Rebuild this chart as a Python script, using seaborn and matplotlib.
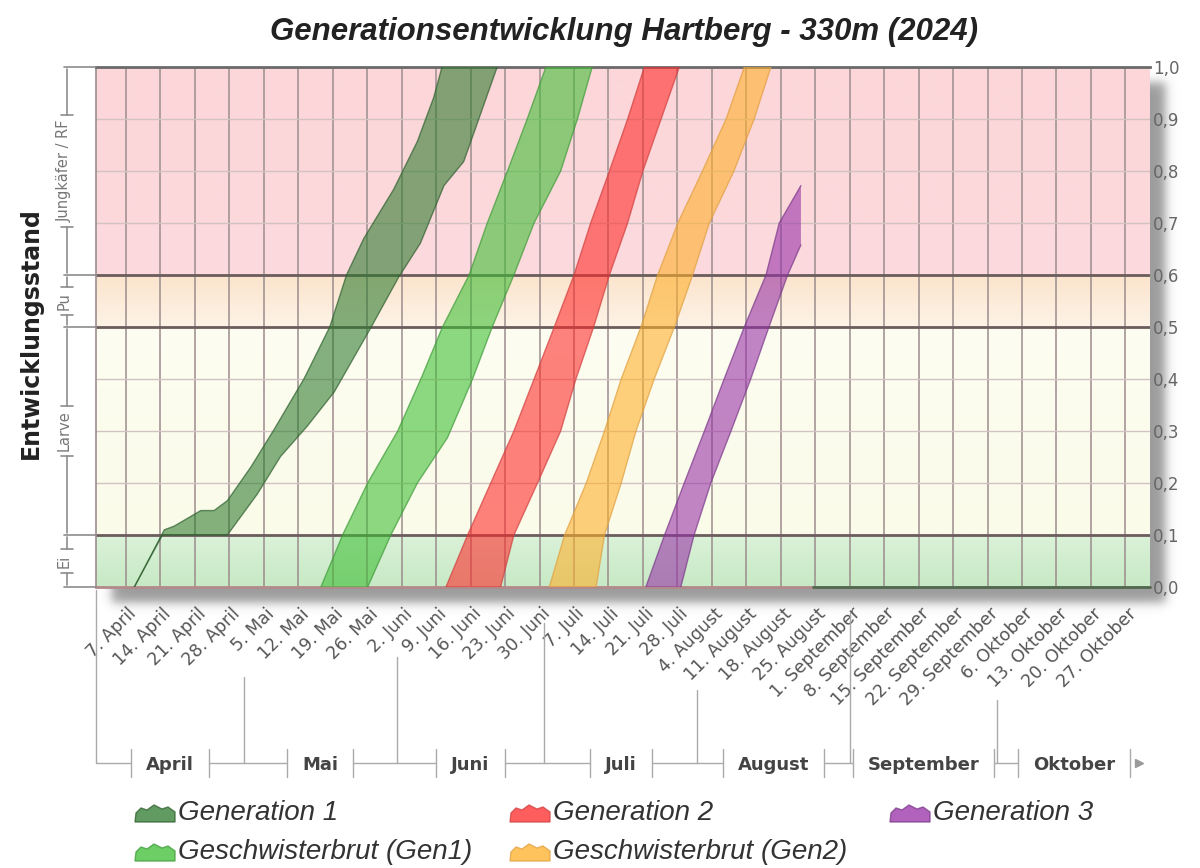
import numpy as np
import pandas as pd
import seaborn as sns
import matplotlib.pyplot as plt
from matplotlib.lines import Line2D
from matplotlib.patches import Polygon
from matplotlib.transforms import ScaledTranslation

sns.set_style("white")
plt.rcParams['font.family'] = ['DejaVu Sans']

W, H = 1200, 868

# development stages (y axis)
stage_names = ['Ei', 'Larve', 'Pu', 'Jungkäfer / RF']
stage_bounds = [0.0, 0.1, 0.5, 0.6, 1.0]
stage_colors = [('#c7e9c5', '#dbf2d9'), ('#fbfbea', '#fdfdf1'),
                ('#fdf3e6', '#fbe4cd'), ('#fcdadd', '#fcd6d9')]

# x axis: days since 1. April 2024
start = pd.Timestamp('2024-04-01')
x_end = 214
tick_days = list(range(6, 210, 7))
month_de = {4: 'April', 5: 'Mai', 6: 'Juni', 7: 'Juli', 8: 'August',
            9: 'September', 10: 'Oktober'}
tick_dates = [start + pd.Timedelta(days=d) for d in tick_days]
tick_labels = [f"{d.day}. {month_de[d.month]}" for d in tick_dates]
months = ['April', 'Mai', 'Juni', 'Juli', 'August', 'September', 'Oktober']
month_start_days = [0, 30, 61, 91, 122, 153, 183]

levels = [0.0, 0.1, 0.2, 0.3, 0.4, 0.5, 0.6, 0.7, 0.8, 0.9, 1.0]

# Generation 1 (fast edge = left, slow edge = right)
gen1_left_days = [7.7, 13.8, 15.8, 21.2, 23.9, 26.6, 31.4, 36.1, 42.2, 47.4,
                  50.8, 54.3, 60.4, 65.2, 68.5, 70.2]
gen1_left_vals = [0.0, 0.11, 0.117, 0.147, 0.147, 0.166, 0.231, 0.303, 0.401,
                  0.5, 0.6, 0.67, 0.765, 0.857, 0.941, 1.0]
gen1_right_days = [7.7, 13.4, 26.6, 32.7, 37.4, 42.8, 48.3, 53.0, 55.7, 61.4,
                   65.8, 70.6, 74.6, 78.0, 81.4]
gen1_right_vals = [0.0, 0.1, 0.1, 0.179, 0.251, 0.309, 0.375, 0.453, 0.498,
                   0.596, 0.661, 0.772, 0.818, 0.909, 1.0]

# Geschwisterbrut (Gen1)
sib1_left_days = [45.6, 50.0, 55.1, 61.2, 65.9, 70.3, 75.7, 79.4, 83.5, 87.5, 91.3]
sib1_left_vals = levels
sib1_right_days = [55.1, 59.8, 65.2, 71.3, 74.7, 76.4, 80.4, 84.8, 88.9, 94.3,
                   97.7, 100.7]
sib1_right_vals = [0.0, 0.1, 0.2, 0.287, 0.362, 0.4, 0.5, 0.6, 0.7, 0.8, 0.9, 1.0]

# Generation 2
gen2_left_days = [71.0, 75.4, 80.1, 84.8, 88.9, 93.0, 97.0, 100.4, 104.2, 107.9, 111.3]
gen2_right_days = [82.1, 84.8, 89.6, 94.3, 97.4, 101.0, 104.2, 107.9, 111.0, 114.7, 118.4]

# Geschwisterbrut (Gen2)
sib2_left_days = [92.0, 95.1, 99.5, 103.2, 106.6, 110.6, 114.0, 118.1, 123.1, 127.9, 131.6]
sib2_right_days = [101.5, 103.2, 106.6, 109.6, 113.3, 117.4, 121.1, 124.5, 129.5,
                   133.6, 137.0]

# Generation 3
gen3_left_days = [111.6, 115.4, 119.4, 123.5, 127.5, 131.6, 136.0, 138.7, 143.1]
gen3_left_vals = [0.0, 0.1, 0.2, 0.3, 0.4, 0.5, 0.6, 0.7, 0.772]
gen3_right_days = [118.7, 121.4, 124.8, 128.9, 132.9, 136.6, 140.4, 143.1]
gen3_right_vals = [0.0, 0.1, 0.2, 0.3, 0.4, 0.5, 0.6, 0.658]

zero_days = [145.5, x_end]
zero_vals = [0.0, 0.0]

series = [
    ('Generation 1', gen1_left_days, gen1_left_vals, gen1_right_days, gen1_right_vals,
     '#2c7a2c', '#2f5f2f'),
    ('Geschwisterbrut (Gen1)', sib1_left_days, sib1_left_vals, sib1_right_days,
     sib1_right_vals, '#3cbe32', '#3f9a3a'),
    ('Generation 2', gen2_left_days, levels, gen2_right_days, levels,
     '#ff2828', '#d04040'),
    ('Geschwisterbrut (Gen2)', sib2_left_days, levels, sib2_right_days, levels,
     '#ffaf28', '#e0a040'),
    ('Generation 3', gen3_left_days, gen3_left_vals, gen3_right_days, gen3_right_vals,
     '#962ea6', '#7a3a8a'),
]

fig = plt.figure(figsize=(12, 8.68), dpi=100)
fig.patch.set_facecolor('white')
ax_l, ax_t, ax_r, ax_b = 96.4, 67, 1150, 587
ax = fig.add_axes([ax_l / W, 1 - ax_b / H, (ax_r - ax_l) / W, (ax_b - ax_t) / H])
ax.set_zorder(1)

# drop shadow behind the plot area
xs = np.arange(W)
ys = np.arange(H)
def soft(v, a, b, s):
    return 0.5 * (np.tanh((v - a) / s) - np.tanh((v - b) / s))
off = 15
shadow = np.zeros((H, W, 4))
shadow[..., :3] = 0.35
shadow[..., 3] = np.outer(soft(ys, ax_t + off, ax_b + off, 6),
                          soft(xs, ax_l + off, ax_r + off, 6)) * 0.6
fig.figimage(shadow, xo=0, yo=0, origin='upper', zorder=0)

# stage background bands
for (c0, c1), y0, y1 in zip(stage_colors, stage_bounds[:-1], stage_bounds[1:]):
    a = np.array(plt.matplotlib.colors.to_rgb(c0))
    b = np.array(plt.matplotlib.colors.to_rgb(c1))
    t = np.linspace(0, 1, 64)[:, None]
    grad = (a * (1 - t) + b * t)[:, None, :]
    ax.imshow(grad, extent=[0, x_end, y0, y1], aspect='auto', origin='lower',
              interpolation='bilinear', zorder=0)

ax.set_xlim(0, x_end)
ax.set_ylim(0, 1)
ax.set_axisbelow(True)

ax.set_xticks(tick_days)
ax.grid(axis='x', color='#9b8d8d', lw=1.1)
yt = np.round(np.arange(0, 1.01, 0.1), 1)
ax.set_yticks(yt)
ax.grid(axis='y', color='#d2c2c2', lw=1.0)
for v in [0.1, 0.5, 0.6]:
    ax.axhline(v, color='#6b5d5d', lw=2, zorder=2)

# development bands
for name, ld, lv, rd, rv, col, edge in series:
    px = list(ld) + list(rd)[::-1]
    py = list(lv) + list(rv)[::-1]
    ax.fill(px, py, color=col, alpha=0.58, lw=0, zorder=3)
    sns.lineplot(x=ld, y=lv, sort=False, estimator=None, color=edge, lw=1,
                 alpha=0.7, ax=ax, zorder=4, legend=False)
    sns.lineplot(x=rd, y=rv, sort=False, estimator=None, color=edge, lw=1,
                 alpha=0.7, ax=ax, zorder=4, legend=False)
ax.plot(zero_days, zero_vals, color='#4f6a4f', lw=2, zorder=5, clip_on=False)
ax.set_xlabel('')
ax.set_ylabel('')

ax.spines['right'].set_visible(False)
ax.spines['top'].set_color('#6a6a6a')
ax.spines['top'].set_linewidth(2)
ax.spines['bottom'].set_color('#b38a8a')
ax.spines['bottom'].set_linewidth(2)
ax.spines['left'].set_color('#9a8e8e')
ax.spines['left'].set_linewidth(1.2)

ax.set_xticklabels(tick_labels, rotation=45, ha='right', va='center',
                   rotation_mode='anchor', fontsize=12.5, color='#555555')
ax.tick_params(axis='x', length=0, pad=0)
shift = ScaledTranslation(8 / 100, -24 / 100, fig.dpi_scale_trans)
for lab in ax.get_xticklabels():
    lab.set_transform(lab.get_transform() + shift)

ax.yaxis.tick_right()
ax.set_yticklabels([f"{v:.1f}".replace('.', ',') for v in yt])
ax.tick_params(axis='y', length=0, pad=2, labelsize=12, labelcolor='#666666',
               left=False)

renderer = fig.canvas.get_renderer()

def data_px(xd, yd):
    d = ax.transData.transform((xd, yd))
    return d[0], H - d[1]

def fig_line(xl, yl, **kw):
    fig.add_artist(Line2D([x / W for x in xl], [1 - y / H for y in yl],
                          transform=fig.transFigure, **kw))

# title and axis label
fig.text(624 / W, 1 - 32 / H, 'Generationsentwicklung Hartberg - 330m (2024)',
         ha='center', va='center', fontsize=22.5, fontweight='bold',
         fontstyle='italic', family=['Liberation Sans', 'DejaVu Sans'], color='#222222')
fig.text(31 / W, 1 - 333 / H, 'Entwicklungsstand', rotation=90, ha='center',
         va='center', fontsize=17, fontweight='bold', color='#222222')

# stage bracket on the left
bx = 67
for b in stage_bounds:
    y = data_px(0, b)[1]
    fig_line([bx - 3, ax_l], [y, y], color='#8c8c8c', lw=1.2)
for name, y0, y1 in zip(stage_names, stage_bounds[:-1], stage_bounds[1:]):
    ya = data_px(0, y1)[1]
    yb = data_px(0, y0)[1]
    cy = (ya + yb) / 2
    t = fig.text(bx / W - 0.002, 1 - cy / H, name, rotation=90, ha='center',
                 va='center', fontsize=10.5, color='#777777')
    half = t.get_window_extent(renderer).height / 2 + 5
    fig_line([bx, bx], [ya + 2, cy - half], color='#8c8c8c', lw=1.2)
    fig_line([bx, bx], [cy + half, yb - 2], color='#8c8c8c', lw=1.2)
    fig_line([bx - 6, bx + 6], [cy - half, cy - half], color='#8c8c8c', lw=1.2)
    fig_line([bx - 6, bx + 6], [cy + half, cy + half], color='#8c8c8c', lw=1.2)

# month grouping under the date labels
bracket_y = 763
bound_px = [data_px(d, 0)[0] for d in month_start_days] + [data_px(x_end, 0)[0]]
line_tops = [590, 677, 657, 623, 690, 613, 700]
gc = '#aaaaaa'
for i, name in enumerate(months):
    x0, x1 = bound_px[i], bound_px[i + 1]
    cx = (x0 + x1) / 2
    t = fig.text(cx / W, 1 - 765 / H, name, ha='center', va='center',
                 fontsize=13, fontweight='bold', color='#444444')
    w = t.get_window_extent(renderer).width
    cl = max(cx - w / 2 - 15, x0)
    cr = cx + w / 2 + 15
    fig_line([x0, x0], [line_tops[i], bracket_y], color=gc, lw=1)
    fig_line([x0, cl], [bracket_y, bracket_y], color=gc, lw=1)
    fig_line([cl, cl], [749, 777], color=gc, lw=1)
    fig_line([cr, cr], [749, 777], color=gc, lw=1)
    if i < len(months) - 1:
        cr = min(cr, x1)
        fig_line([cr, x1], [bracket_y, bracket_y], color=gc, lw=1)
    else:
        fig_line([cr + 9], [bracket_y], marker='>', ms=6, color='#9a9a9a', lw=0)

# legend
icon_x = [135, 510, 890]
row_y = [813, 852]
legend_pos = [(0, 0), (0, 1), (1, 0), (1, 1), (2, 0)]
icon_shape = [(0, 18), (1, 9), (6, 4), (12, 6), (19, 1), (27, 5), (33, 3),
              (40, 8), (40, 18)]
for (name, *_, col, edge), (c, r) in zip(series, legend_pos):
    x0 = icon_x[c]
    y0 = row_y[r] - 9
    pts = [((x0 + dx) / W, 1 - (y0 + dy) / H) for dx, dy in icon_shape]
    fig.add_artist(Polygon(pts, closed=True, transform=fig.transFigure,
                           facecolor=col, alpha=0.75, edgecolor=edge, lw=1))
    fig.text((x0 + 43) / W, 1 - row_y[r] / H, name, ha='left', va='center',
             fontsize=20, fontstyle='italic',
             family=['Liberation Sans', 'DejaVu Sans'], color='#333333')

fig.savefig('out.png', dpi=100)
